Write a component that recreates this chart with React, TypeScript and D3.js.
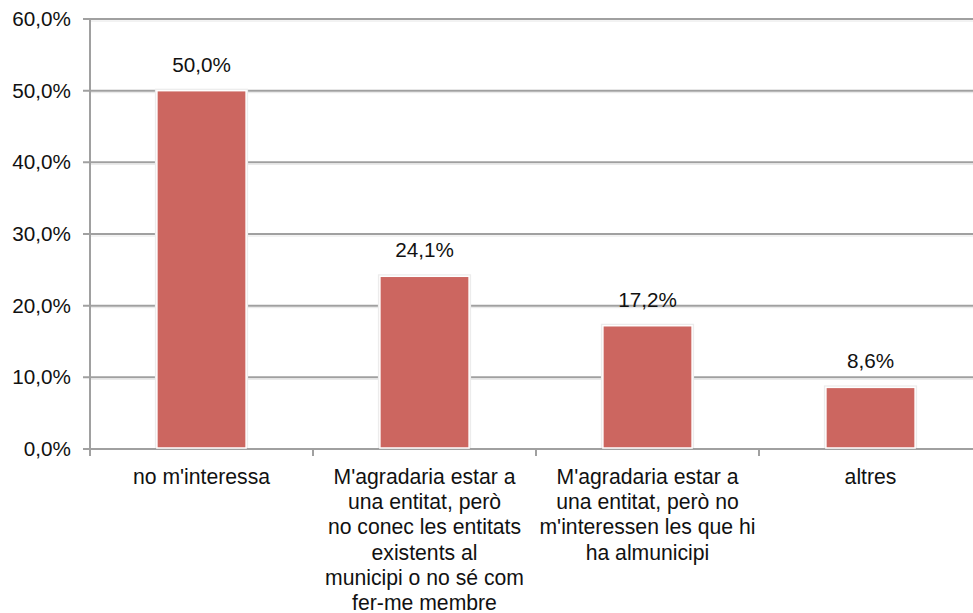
import React from "react";
import * as d3 from "d3";

const categories = [
  "no m'interessa",
  "M'agradaria estar a una entitat, però no conec les entitats existents al municipi o no sé com fer-me membre",
  "M'agradaria estar a una entitat, però no m'interessen les que hi ha almunicipi",
  "altres",
];
const categoryLines = [
  ["no m'interessa"],
  ["M'agradaria estar a", "una entitat, però", "no conec les entitats", "existents al", "municipi o no sé com", "fer-me membre"],
  ["M'agradaria estar a", "una entitat, però no", "m'interessen les que hi", "ha almunicipi"],
  ["altres"],
];
const values = [50.0, 24.1, 17.2, 8.6];
const yTicks = [0, 10, 20, 30, 40, 50, 60];

const W = 973;
const H = 613;
const left = 90;
const right = 982;
const top = 19;
const bottom = 449;
const fmt = (v: number) => v.toFixed(1).replace(".", ",") + "%";

export default function App() {
  const x = d3.scaleBand<number>().domain(d3.range(categories.length)).range([left, right]).paddingInner(0).paddingOuter(0);
  const y = d3.scaleLinear().domain([0, 60]).range([bottom, top]);
  const bw = x.bandwidth() / 2.5;
  const font = "'Liberation Sans', Arial, sans-serif";
  return (
    <svg width={W} height={H} style={{ position: "absolute", left: 0, top: 0, background: "#fff" }} fontFamily={font}>
      {yTicks.map((t) => (
        <g key={t}>
          {t > 0 && <line x1={left} x2={W} y1={y(t) + 2} y2={y(t) + 2} stroke="#e6e6e6" strokeWidth={1} />}
          <line x1={left - 7} x2={W} y1={y(t)} y2={y(t)} stroke="#a0a0a0" strokeWidth={2} />
          <text x={71} y={y(t) + 7} fontSize={20.7} textAnchor="end" fill="#111">{fmt(t)}</text>
        </g>
      ))}
      <line x1={left} x2={left} y1={top} y2={bottom + 7} stroke="#a0a0a0" strokeWidth={2} />
      {d3.range(categories.length + 1).map((i) => {
        const xx = i < categories.length ? x(i)! : right;
        return <line key={i} x1={xx} x2={xx} y1={bottom} y2={bottom + 7} stroke="#a0a0a0" strokeWidth={2} />;
      })}
      {values.map((v, i) => {
        const cx = x(i)! + x.bandwidth() / 2;
        return (
          <g key={i}>
            <rect x={cx - bw / 2 - 2} y={y(v) - 2} width={bw + 4} height={bottom - y(v) + 1} fill="#ececec" />
            <rect x={cx - bw / 2} y={y(v)} width={bw} height={bottom - y(v) - 1} fill="#cc6660" stroke="#ffffff" strokeWidth={1.5} />
            <text x={cx} y={y(v) - 19} fontSize={20.7} textAnchor="middle" fill="#111">{fmt(v)}</text>
            {categoryLines[i].map((ln, j) => (
              <text key={j} x={cx} y={484 + j * 25.2} fontSize={21.2} textAnchor="middle" fill="#111">{ln}</text>
            ))}
          </g>
        );
      })}
    </svg>
  );
}
